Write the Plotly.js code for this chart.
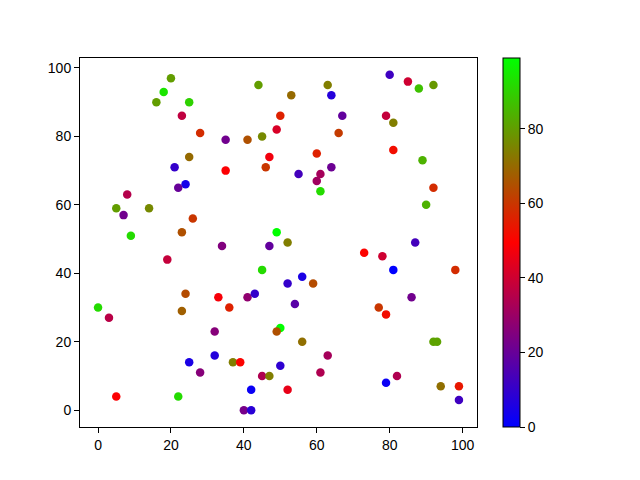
<!DOCTYPE html>
<html>
<head>
<meta charset="utf-8">
<script src="https://cdn.plot.ly/plotly-3.0.1.min.js"></script>
<style>
  body { margin: 0; background: #fff; }
  #chart { width: 640px; height: 480px; }
</style>
</head>
<body>
<div id="chart"></div>
<script>
// scatter points: x, y and colour value
var xs = [20, 18, 16, 25, 44, 23, 28, 50, 49, 35, 41, 45, 25, 47, 46, 21, 35, 24, 22, 8,
          5, 7, 14, 26, 9, 23, 49, 80, 85, 88, 92, 63, 64, 53, 67, 79, 81, 66, 81, 60,
          89, 64, 55, 61, 60, 92, 61, 90, 52, 87, 34, 47, 19, 45, 24, 33, 36, 41, 43, 0,
          3, 23, 32, 50, 49, 32, 25, 37, 39, 50, 28, 45, 47, 42, 5, 22, 40, 42, 73, 78,
          81, 98, 56, 52, 59, 86, 54, 77, 79, 56, 92, 93, 63, 61, 82, 79, 94, 99, 99, 52];
var ys = [97, 93, 90, 90, 95, 86, 81, 86, 82, 79, 79, 80, 74, 74, 71, 71, 70, 66, 65, 63,
          59, 57, 59, 56, 51, 52, 52, 98, 96, 94, 95, 95, 92, 92, 86, 86, 84, 81, 76, 75,
          73, 71, 69, 69, 67, 65, 64, 60, 49, 49, 48, 48, 44, 41, 34, 33, 30, 33, 34, 30,
          27, 29, 23, 24, 23, 16, 14, 14, 14, 13, 11, 10, 10, 6, 4, 4, 0, 0, 46, 45,
          41, 41, 39, 37, 37, 33, 31, 30, 28, 20, 20, 20, 16, 11, 10, 8, 7, 7, 3, 6];
var cs = [80, 94, 80, 90, 80, 37, 58, 56, 42, 22, 65, 76, 70, 47, 60, 10, 49, 4, 20, 35,
          80, 22, 76, 60, 92, 65, 99, 12, 40, 87, 79, 74, 7, 70, 19, 38, 74, 61, 52, 56,
          84, 21, 13, 32, 31, 58, 92, 84, 74, 13, 25, 19, 38, 92, 64, 48, 56, 28, 10, 92,
          36, 68, 26, 99, 65, 7, 5, 74, 50, 9, 26, 34, 74, 2, 49, 92, 23, 8, 50, 40,
          0, 58, 5, 10, 64, 22, 17, 60, 52, 71, 81, 81, 32, 34, 34, 2, 71, 54, 12, 45];

var tickVals = [0, 20, 40, 60, 80, 100];
var cbTicks = [0, 20, 40, 60, 80];

// matplotlib 'brg'
var brg = [[0, 'rgb(0,0,255)'], [0.5, 'rgb(255,0,0)'], [1, 'rgb(0,255,0)']];

var tickFont = {family: 'Liberation Sans, Arial, sans-serif', size: 14, color: '#000'};

var trace = {
    x: xs,
    y: ys,
    mode: 'markers',
    type: 'scatter',
    marker: {
        size: 8.5,
        color: cs,
        colorscale: brg,
        cmin: Math.min.apply(null, cs),
        cmax: Math.max.apply(null, cs),
        line: {width: 0},
        showscale: true,
        colorbar: {
            x: 1.066,
            xanchor: 'left',
            y: 0,
            yanchor: 'bottom',
            len: 1,
            lenmode: 'fraction',
            thickness: 17,
            thicknessmode: 'pixels',
            outlinewidth: 1,
            outlinecolor: '#000',
            tickvals: cbTicks,
            ticks: 'outside',
            ticklen: 5,
            tickcolor: '#000',
            tickfont: tickFont,
            xpad: 0,
            ypad: 0
        }
    },
    hoverinfo: 'none'
};

function axis(range) {
    return {
        range: range,
        tickvals: tickVals,
        ticks: 'outside',
        ticklen: 5,
        tickcolor: '#000',
        showline: true,
        linecolor: '#000',
        linewidth: 1,
        mirror: true,
        showgrid: false,
        zeroline: false,
        tickfont: tickFont
    };
}

var layout = {
    width: 640,
    height: 480,
    margin: {l: 80, r: 163, t: 58, b: 53},
    paper_bgcolor: '#fff',
    plot_bgcolor: '#fff',
    showlegend: false,
    xaxis: axis([-4.95, 103.95]),
    yaxis: axis([-4.9, 102.9])
};

Plotly.newPlot('chart', [trace], layout, {staticPlot: true});
</script>
</body>
</html>
